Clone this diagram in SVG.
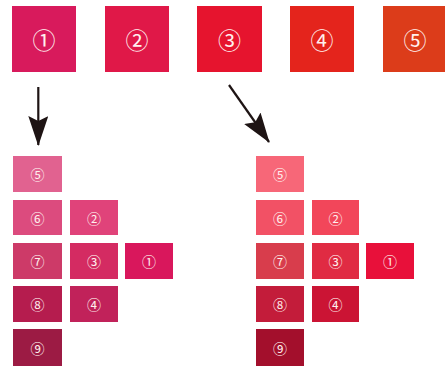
<svg xmlns="http://www.w3.org/2000/svg" width="445" height="367" viewBox="0 0 445 367">
  <style>
    .big text, .cell text { font-family: "Noto Sans CJK JP", "DejaVu Sans", sans-serif; fill: #fff0ee; text-anchor: middle; dominant-baseline: central; }
    .big text { font-size: 23px; }
    .cell text { font-size: 14px; }
    .arrow { stroke: #1e1414; stroke-width: 2.2; fill: none; }
  </style>
  <defs>
    <marker id="head" viewBox="0 0 30 20" refX="29" refY="10" markerWidth="30" markerHeight="20" markerUnits="userSpaceOnUse" orient="auto">
      <path d="M0,0 L30,10 L0,20 L5,10 Z" fill="#1e1414"/>
    </marker>
  </defs>
  <rect width="445" height="367" fill="#ffffff"/>

  <!-- source hues -->
  <g id="hue1" class="big"><rect x="12" y="6" width="64" height="66" fill="#d81a5c"/><text x="44" y="39">①</text></g>
  <g id="hue2" class="big"><rect x="105" y="6" width="64" height="66" fill="#e01848"/><text x="137" y="39">②</text></g>
  <g id="hue3" class="big"><rect x="197" y="6" width="65" height="66" fill="#e6142e"/><text x="229.5" y="39">③</text></g>
  <g id="hue4" class="big"><rect x="290" y="6" width="64" height="66" fill="#e4241c"/><text x="322" y="39">④</text></g>
  <g id="hue5" class="big"><rect x="383" y="6" width="64" height="66" fill="#dc3c1a"/><text x="415" y="39">⑤</text></g>

  <!-- connectors -->
  <g id="connectors">
    <line class="arrow" x1="38.3" y1="87" x2="38.3" y2="145" marker-end="url(#head)"/>
    <line class="arrow" x1="229" y1="85" x2="269" y2="142" marker-end="url(#head)"/>
  </g>

  <!-- tones of hue 1 -->
  <g id="left-5" class="cell"><rect x="13" y="156" width="49" height="36" fill="#e16290"/><text x="37.5" y="174">⑤</text></g>
  <g id="left-6" class="cell"><rect x="13" y="200" width="49" height="35" fill="#dc4b7e"/><text x="37.5" y="217.5">⑥</text></g>
  <g id="left-2" class="cell"><rect x="70" y="200" width="48" height="35" fill="#e0437a"/><text x="94" y="217.5">②</text></g>
  <g id="left-7" class="cell"><rect x="13" y="243" width="49" height="36" fill="#cd3a68"/><text x="37.5" y="261">⑦</text></g>
  <g id="left-3" class="cell"><rect x="70" y="243" width="48" height="36" fill="#d42b62"/><text x="94" y="261">③</text></g>
  <g id="left-1" class="cell"><rect x="125" y="243" width="48" height="36" fill="#d9175c"/><text x="149" y="261">①</text></g>
  <g id="left-8" class="cell"><rect x="13" y="286" width="49" height="36" fill="#b51c4e"/><text x="37.5" y="304">⑧</text></g>
  <g id="left-4" class="cell"><rect x="70" y="286" width="48" height="36" fill="#c1225a"/><text x="94" y="304">④</text></g>
  <g id="left-9" class="cell"><rect x="13" y="329" width="49" height="37" fill="#9c1b44"/><text x="37.5" y="347.5">⑨</text></g>

  <!-- tones of hue 3 -->
  <g id="right-5" class="cell"><rect x="256" y="156" width="48" height="36" fill="#f76778"/><text x="280" y="174">⑤</text></g>
  <g id="right-6" class="cell"><rect x="256" y="200" width="48" height="35" fill="#f25165"/><text x="280" y="217.5">⑥</text></g>
  <g id="right-2" class="cell"><rect x="312" y="200" width="47" height="35" fill="#f2465a"/><text x="335.5" y="217.5">②</text></g>
  <g id="right-7" class="cell"><rect x="256" y="243" width="48" height="36" fill="#d83d4c"/><text x="280" y="261">⑦</text></g>
  <g id="right-3" class="cell"><rect x="312" y="243" width="47" height="36" fill="#e02b43"/><text x="335.5" y="261">③</text></g>
  <g id="right-1" class="cell"><rect x="366" y="243" width="48" height="36" fill="#e8103a"/><text x="390" y="261">①</text></g>
  <g id="right-8" class="cell"><rect x="256" y="286" width="48" height="36" fill="#c31c3a"/><text x="280" y="304">⑧</text></g>
  <g id="right-4" class="cell"><rect x="312" y="286" width="47" height="36" fill="#cb1434"/><text x="335.5" y="304">④</text></g>
  <g id="right-9" class="cell"><rect x="256" y="329" width="48" height="37" fill="#a30f2c"/><text x="280" y="347.5">⑨</text></g>
</svg>
